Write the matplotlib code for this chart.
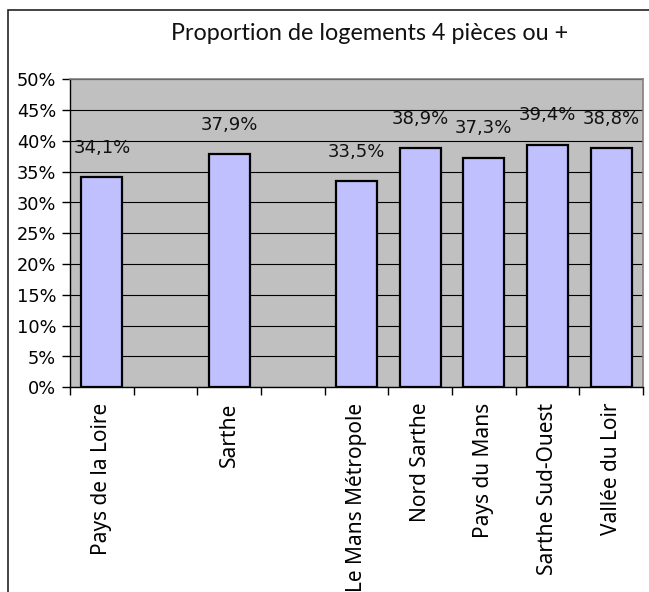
import matplotlib
matplotlib.use("Agg")
import matplotlib.pyplot as plt
import numpy as np
from matplotlib.patches import Rectangle

# share of dwellings with 4 rooms or more, blank slots separate the groups
categories = ["Pays de la Loire", "", "Sarthe", "", "Le Mans Métropole",
              "Nord Sarthe", "Pays du Mans", "Sarthe Sud-Ouest", "Vallée du Loir"]
values = [34.1, np.nan, 37.9, np.nan, 33.5, 38.9, 37.3, 39.4, 38.8]
yticks = [0, 5, 10, 15, 20, 25, 30, 35, 40, 45, 50]

W, H = 649, 592
fig = plt.figure(figsize=(W / 100, H / 100), dpi=100)

# chart border (runs past the right and bottom edges)
fig.patches.append(Rectangle((8 / W, -0.1), 1.2, 1.1 - 10 / H, transform=fig.transFigure,
                             fill=False, edgecolor="#222222", linewidth=1.2, zorder=0))

ax = fig.add_axes([70 / W, 1 - 387.3 / H, (643 - 70) / W, (387.3 - 79.3) / H])
ax.set_facecolor("#C0C0C0")

x = np.arange(len(categories))
ax.bar(x, values, width=0.64, color="#C0C0FF", edgecolor="black", linewidth=1.6, zorder=3)

for xi, v in zip(x, values):
    if np.isnan(v):
        continue
    ax.annotate(f"{v:.1f}%".replace(".", ","), (xi, v), xytext=(0, 21),
                textcoords="offset points", ha="center", va="center",
                fontsize=13, family="DejaVu Sans", color="#111111", zorder=4)

ax.set_xlim(-0.5, len(categories) - 0.5)
ax.set_ylim(0, 50)
ax.set_yticks(yticks)
ax.set_yticklabels([f"{t}%" for t in yticks], fontsize=12.8, family="DejaVu Sans")
ax.yaxis.grid(True, color="black", linewidth=0.8, zorder=1)
ax.set_axisbelow(True)

ax.set_xticks(np.arange(len(categories) + 1) - 0.5, minor=False)
ax.set_xticklabels([])
ax.set_xticks(x, minor=True)
ax.set_xticklabels(categories, minor=True, rotation=90, fontsize=15,
                   family="Noto Sans", va="top", ha="center")
ax.tick_params(axis="x", which="minor", length=0, pad=11)
ax.tick_params(axis="x", which="major", length=6, width=1, direction="out")
ax.tick_params(axis="y", length=6, width=1, direction="out", pad=4)

for side in ("top", "right"):
    ax.spines[side].set_color("#808080")
    ax.spines[side].set_linewidth(1.2)
for side in ("left", "bottom"):
    ax.spines[side].set_color("black")
    ax.spines[side].set_linewidth(1.0)

fig.text(370 / W, 1 - 33 / H, "Proportion de logements 4 pièces ou +",
         ha="center", va="center", fontsize=16.8, family="Lato", color="#111111")

fig.savefig("out.png", dpi=100)
